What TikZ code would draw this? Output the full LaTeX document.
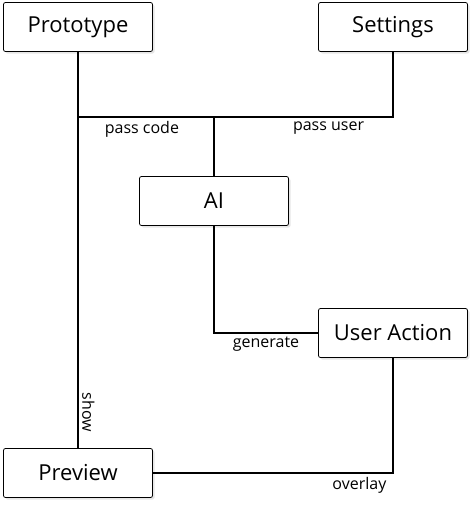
\documentclass[tikz,border=0pt]{standalone}
\usepackage{fontspec}
\setmainfont{Open Sans}
\usetikzlibrary{shadows}

\begin{document}
\begin{tikzpicture}[x=1pt,y=-1pt,
  box/.style={draw=black,line width=0.8pt,fill=white,rounded corners=2pt,minimum width=149pt,minimum height=49pt,
    font=\fontsize{22}{26}\selectfont,drop shadow={opacity=0.2,shadow xshift=2pt,shadow yshift=-2pt}},
  link/.style={line width=1.6pt},
  lbl/.style={font=\fontsize{16}{19}\selectfont,inner sep=3.5pt}]
\useasboundingbox (0,0) rectangle (476,506);
\node[box] (proto) at (78,27) {Prototype};
\node[box] (set) at (393,27) {Settings};
\node[box] (ai) at (214,201) {AI};
\node[box] (ua) at (393,333) {User Action};
\node[box] (prev) at (78,473) {Preview};
\coordinate (jn) at (214,117);
% links
\draw[link] (proto) -- node[lbl,pos=0.91,sloped,above]{show} (prev);
\draw[link] (proto) |- node[lbl,pos=0.735,below]{pass code} (jn) -- (ai);
\draw[link] (set) |- node[lbl,pos=0.68,below]{pass user} (jn);
\draw[link] (ai) |- node[lbl,pos=0.75,below]{generate} (ua);
\draw[link] (ua) |- node[lbl,pos=0.57,below]{overlay} (prev);
\end{tikzpicture}
\end{document}
